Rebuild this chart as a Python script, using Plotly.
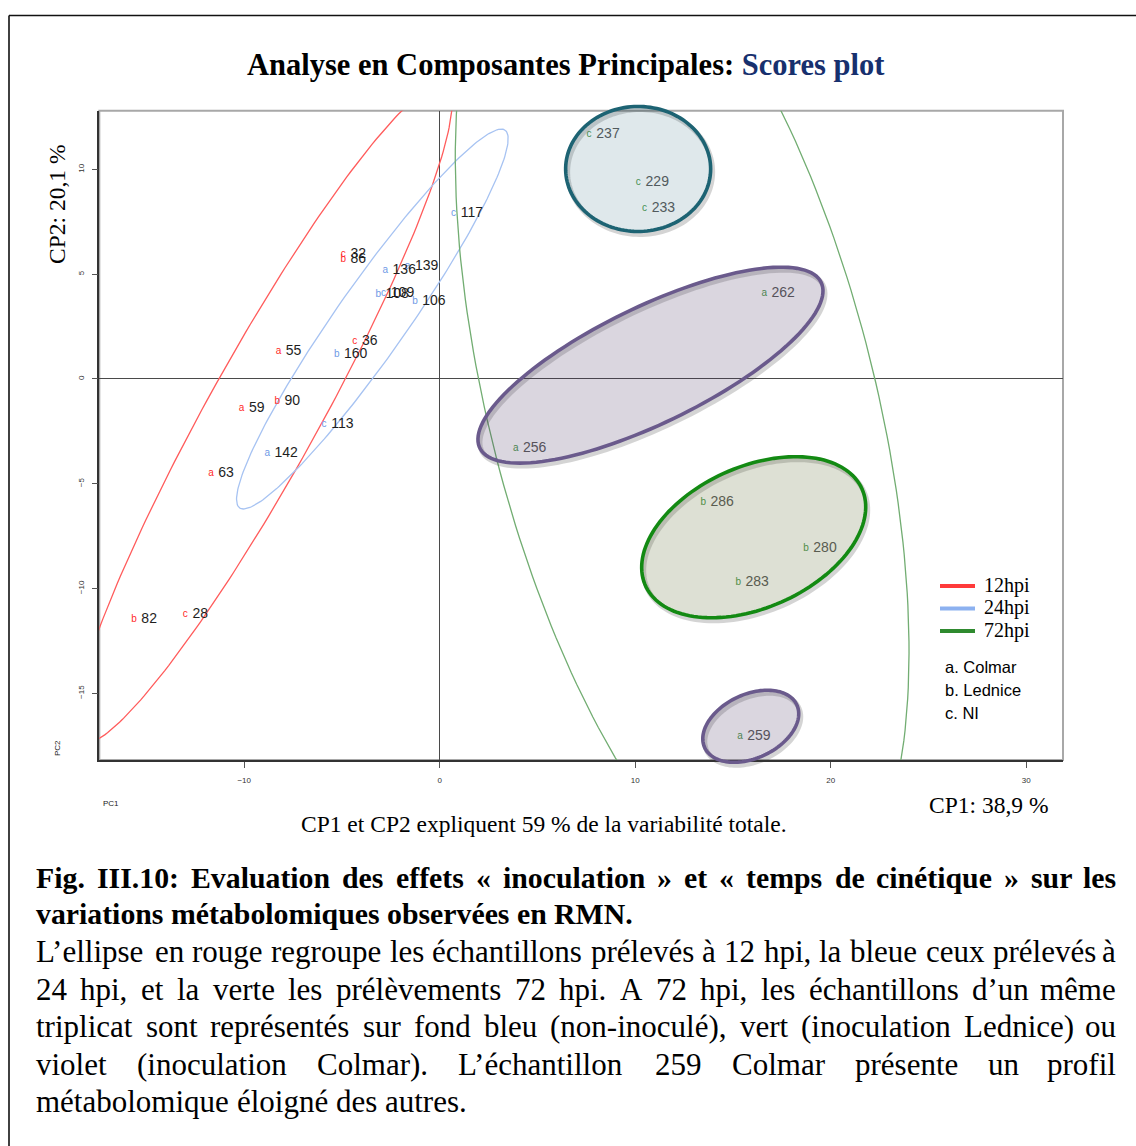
"""
PCA scores plot (CP1 x CP2) with 95 % ellipses per sampling time,
hand-drawn triplicate highlights and the French figure caption.
"""

import numpy as np
import plotly.graph_objects as go


# ============================================================================
# DATA
# ============================================================================

SAMPLE_ID = ['55', '59', '63', '82', '86', '90', '28', '32', '36',
             '136', '139', '142', '106', '108', '160', '109', '113', '117',
             '256', '259', '262', '280', '283', '286', '229', '233', '237']
SAMPLE_CODE = ['a', 'a', 'a', 'b', 'b', 'b', 'c', 'c', 'c',
               'a', 'a', 'a', 'b', 'b', 'b', 'c', 'c', 'c',
               'a', 'a', 'a', 'b', 'b', 'b', 'c', 'c', 'c']
SAMPLE_TIME = ['12hpi'] * 9 + ['24hpi'] * 9 + ['72hpi'] * 9
PC1 = [-8.24, -10.13, -11.70, -15.63, -4.93, -8.31, -13.02, -4.93, -4.35,
       -2.78, -1.64, -8.82, -1.26, -3.14, -5.27, -2.87, -5.92, 0.70,
       3.89, 15.36, 16.60, 18.74, 15.27, 13.48, 10.16, 10.47, 7.64]
PC2 = [1.30, -1.40, -4.53, -11.50, 5.68, -1.08, -11.26, 5.96, 1.80,
       5.17, 5.36, -3.55, 3.69, 4.04, 1.19, 4.10, -2.16, 7.90,
       -3.34, -17.07, 4.06, -8.08, -9.72, -5.90, 9.37, 8.14, 11.67]

TIMES = ['12hpi', '24hpi', '72hpi']
CODE_NAMES = ['a. Colmar', 'b. Lednice', 'c. NI']

# triplicates circled by hand at 72 hpi (NI, Colmar, Lednice, outlier)
HILITE_CX = [10.15, 10.78, 16.06, 15.91]
HILITE_CY = [10.02, 0.66, -7.55, -16.57]

X_TICKS = [-10, 0, 10, 20, 30]
Y_TICKS = [-15, -10, -5, 0, 5, 10]

TITLE_BLACK = 'Analyse en Composantes Principales: '
TITLE_BLUE = 'Scores plot'
CAPTION_BOLD = [
    'Fig. III.10: Evaluation des effets « inoculation » et « temps de cinétique » sur les',
    'variations métabolomiques observées en RMN.',
]
CAPTION_TEXT = [
    'L’ellipse en rouge regroupe les échantillons prélevés à 12 hpi, la bleue ceux prélevés à',
    '24 hpi, et la verte les prélèvements 72 hpi. A 72 hpi, les échantillons d’un même',
    'triplicat sont représentés sur fond bleu (non-inoculé), vert (inoculation Lednice) ou',
    'violet (inoculation Colmar). L’échantillon 259 Colmar présente un profil',
    'métabolomique éloigné des autres.',
]


# ============================================================================
# STYLE / LAYOUT CONSTANTS
# ============================================================================

FIG_W, FIG_H = 1136, 1146
PLOT_LEFT, PLOT_RIGHT, PLOT_TOP, PLOT_BOTTOM = 99.3, 1063, 110.7, 760
X_RANGE = [-17.41, 31.88]
Y_RANGE = [-18.18, 12.80]
DOM_X = [PLOT_LEFT / FIG_W, PLOT_RIGHT / FIG_W]
DOM_Y = [1 - PLOT_BOTTOM / FIG_H, 1 - PLOT_TOP / FIG_H]

SERIF = 'Liberation Serif, Times New Roman, serif'
SANS = 'Liberation Sans, Arial, sans-serif'

LETTER_COLOR = {'12hpi': '#ff2a2a', '24hpi': '#6f9ae6', '72hpi': '#4f9a4f'}
NUMBER_COLOR = {'12hpi': '#1e1e1e', '24hpi': '#1e1e1e', '72hpi': '#5a5a5a'}
ELLIPSE_COLOR = {'12hpi': '#ff5c5c', '24hpi': '#a7c3f2', '72hpi': '#72ad72'}
LEGEND_COLOR = {'12hpi': '#ff3a3a', '24hpi': '#8cb1f0', '72hpi': '#2f8a2f'}

# hand-drawn highlight ellipses: semi-axes in px, tilt in degrees, colours
HILITE_A = [72.5, 189.7, 118.6, 50.8]
HILITE_B = [62.5, 58.1, 70.5, 31.9]
HILITE_ANGLE = [0, 25.9, 24.1, 25]
HILITE_LINE = ['#1d6373', '#6a5a8c', '#138a13', '#6a5a8c']
HILITE_FILL = ['rgba(30,90,110,0.14)', 'rgba(70,50,95,0.2)',
               'rgba(85,100,40,0.2)', 'rgba(70,50,95,0.2)']

# Times metrics (per 1000 em) used to justify the caption lines
TIMES_REG = dict(zip(' ()-,.:%’«»', [250, 333, 333, 333, 250, 250, 278, 833, 333, 500, 500]))
TIMES_REG.update(dict(zip('abcdefghijklmnopqrstuvwxyz',
                          [444, 500, 444, 500, 444, 333, 500, 500, 278, 278, 500, 278, 778,
                           500, 500, 500, 500, 333, 389, 278, 500, 500, 722, 500, 500, 444])))
TIMES_REG.update(dict(zip('ACLRMNIEF', [722, 667, 611, 667, 889, 722, 333, 611, 556])))
TIMES_REG.update({c: 444 for c in 'éèêà'})
TIMES_REG.update({c: 500 for c in '0123456789'})
TIMES_BOLD = dict(zip(' ()-,.:%’«»', [250, 333, 333, 333, 250, 250, 333, 1000, 333, 500, 500]))
TIMES_BOLD.update(dict(zip('abcdefghijklmnopqrstuvwxyz',
                           [500, 556, 444, 556, 444, 333, 500, 556, 278, 333, 556, 278, 833,
                            556, 500, 556, 556, 444, 389, 333, 556, 500, 722, 500, 500, 444])))
TIMES_BOLD.update(dict(zip('ACLRMNIEF', [722, 722, 667, 722, 944, 722, 389, 667, 611])))
TIMES_BOLD.update({c: 444 for c in 'éèêà'})
TIMES_BOLD.update({c: 500 for c in '0123456789'})


# ============================================================================
# HELPERS
# ============================================================================

def px_x(px):
    return px / FIG_W


def px_y(py):
    return 1 - py / FIG_H


def data_to_paper(x, y):
    fx = (x - X_RANGE[0]) / (X_RANGE[1] - X_RANGE[0])
    fy = (y - Y_RANGE[0]) / (Y_RANGE[1] - Y_RANGE[0])
    return (DOM_X[0] + fx * (DOM_X[1] - DOM_X[0]),
            DOM_Y[0] + fy * (DOM_Y[1] - DOM_Y[0]))


def confidence_ellipse(xs, ys, n=240):
    """95 % normal-theory ellipse (chi-square, 2 df) of a group of scores"""
    pts = np.column_stack([xs, ys])
    centre = pts.mean(axis=0)
    vals, vecs = np.linalg.eigh(np.cov(pts, rowvar=False))
    k = np.sqrt(5.991)
    t = np.linspace(0, 2 * np.pi, n)
    circle = np.column_stack([np.cos(t), np.sin(t)]) * (k * np.sqrt(vals))
    ell = centre + circle @ vecs.T
    return ell[:, 0], ell[:, 1]


def hilite_path(cx, cy, a, b, angle, dx=0.0, dy=0.0):
    """Closed SVG path in paper coords for an ellipse sized in screen px"""
    x0, y0 = data_to_paper(cx, cy)
    th = np.radians(angle)
    t = np.linspace(0, 2 * np.pi, 140)
    ex = a * np.cos(t) * np.cos(th) - b * np.sin(t) * np.sin(th) + dx
    ey = a * np.cos(t) * np.sin(th) + b * np.sin(t) * np.cos(th) - dy
    xs = x0 + ex / FIG_W
    ys = y0 + ey / FIG_H
    return 'M ' + ' L '.join(f'{x:.5f},{y:.5f}' for x, y in zip(xs, ys)) + ' Z'


def text_width(s, table, size):
    return sum(table.get(ch, 500) for ch in s) * size / 1000.0


def caption_line(annotations, text, y, bold, size, justify, left=35, right=1117):
    """Add one caption line, word by word so it can be justified"""
    table = TIMES_BOLD if bold else TIMES_REG
    words = text.split(' ')
    widths = [text_width(w, table, size) for w in words]
    if justify and len(words) > 1:
        gap = (right - left - sum(widths)) / (len(words) - 1)
    else:
        gap = text_width(' ', table, size)
    x = left
    for i, (w, wd) in enumerate(zip(words, widths)):
        last = justify and i == len(words) - 1
        annotations.append(dict(
            x=px_x(right if last else x), y=px_y(y), xref='paper', yref='paper',
            xanchor='right' if last else 'left', yanchor='middle',
            text=f'<b>{w}</b>' if bold else w, showarrow=False, borderpad=0,
            font=dict(family=SERIF, size=size, color='#000000')
        ))
        x += wd + gap


# ============================================================================
# FIGURE
# ============================================================================

fig = go.Figure()

# 95 % ellipses, one per sampling time
for tp in TIMES:
    xs = [x for x, t in zip(PC1, SAMPLE_TIME) if t == tp]
    ys = [y for y, t in zip(PC2, SAMPLE_TIME) if t == tp]
    ex, ey = confidence_ellipse(xs, ys)
    fig.add_trace(go.Scatter(
        x=ex, y=ey, mode='lines', line=dict(color=ELLIPSE_COLOR[tp], width=1.3),
        hoverinfo='skip', showlegend=False
    ))

# sample labels: coloured code letter at the point, id number to its right
for tp in TIMES:
    idx = [i for i, t in enumerate(SAMPLE_TIME) if t == tp]
    xs = [PC1[i] for i in idx]
    ys = [PC2[i] for i in idx]
    fig.add_trace(go.Scatter(
        x=xs, y=ys, mode='text', text=[SAMPLE_CODE[i] for i in idx],
        textposition='middle center',
        textfont=dict(family=SANS, size=10, color=LETTER_COLOR[tp]),
        hoverinfo='skip', showlegend=False
    ))
    fig.add_trace(go.Scatter(
        x=xs, y=ys, mode='markers+text', text=[SAMPLE_ID[i] for i in idx],
        textposition='middle right',
        marker=dict(size=10, color='rgba(0,0,0,0)'),
        textfont=dict(family=SANS, size=14, color=NUMBER_COLOR[tp]),
        hovertemplate='%{text}<br>CP1 %{x:.2f}<br>CP2 %{y:.2f}<extra>' + tp + '</extra>',
        showlegend=False
    ))

shapes = []

# outer frame of the figure page
shapes.append(dict(type='line', xref='paper', yref='paper', x0=px_x(9), x1=px_x(1140),
                   y0=px_y(15.5), y1=px_y(15.5), line=dict(color='#111111', width=1.6)))
shapes.append(dict(type='line', xref='paper', yref='paper', x0=px_x(9), x1=px_x(9),
                   y0=px_y(15.5), y1=px_y(1150), line=dict(color='#111111', width=1.6)))

# grey plot box (top/right sides)
shapes.append(dict(type='rect', xref='x domain', yref='y domain', x0=0, x1=1, y0=0, y1=1,
                   line=dict(color='#a8a8a8', width=2), layer='below'))

# hand-drawn highlight ellipses with a soft shadow
for cx, cy, a, b, ang, lc, fc in zip(HILITE_CX, HILITE_CY, HILITE_A, HILITE_B,
                                     HILITE_ANGLE, HILITE_LINE, HILITE_FILL):
    shapes.append(dict(type='path', xref='paper', yref='paper',
                       path=hilite_path(cx, cy, a, b, ang, dx=2, dy=3),
                       line=dict(color='rgba(60,60,60,0.22)', width=5)))
    shapes.append(dict(type='path', xref='paper', yref='paper',
                       path=hilite_path(cx, cy, a, b, ang),
                       fillcolor=fc, line=dict(color=lc, width=3.6)))

# legend: sampling times
legend_rows = [586, 608.5, 631]
for tp, ly in zip(TIMES, legend_rows):
    shapes.append(dict(type='line', xref='paper', yref='paper', x0=px_x(940), x1=px_x(975),
                       y0=px_y(ly), y1=px_y(ly), line=dict(color=LEGEND_COLOR[tp], width=4)))

annotations = []
for tp, ly in zip(TIMES, legend_rows):
    annotations.append(dict(x=px_x(982), y=px_y(ly - 1), xref='paper', yref='paper',
                            xanchor='left', yanchor='middle', text=tp, showarrow=False,
                            font=dict(family=SERIF, size=20, color='#000000')))
for name, ly in zip(CODE_NAMES, [667, 690, 713]):
    annotations.append(dict(x=px_x(943), y=px_y(ly), xref='paper', yref='paper',
                            xanchor='left', yanchor='middle', text=name, showarrow=False,
                            font=dict(family=SANS, size=16.5, color='#000000')))

# titles and axis labels
annotations.append(dict(x=px_x(566), y=px_y(65), xref='paper', yref='paper',
                        xanchor='center', yanchor='middle', showarrow=False,
                        text=f'<b>{TITLE_BLACK}<span style="color:#17306e">{TITLE_BLUE}</span></b>',
                        font=dict(family=SERIF, size=30.5, color='#000000')))
annotations.append(dict(x=px_x(57), y=px_y(205), xref='paper', yref='paper',
                        xanchor='center', yanchor='middle', showarrow=False, textangle=-90,
                        text='CP2: 20,1 %', font=dict(family=SERIF, size=23.5, color='#000000')))
annotations.append(dict(x=px_x(988), y=px_y(805), xref='paper', yref='paper',
                        xanchor='center', yanchor='middle', showarrow=False,
                        text='CP1: 38,9 %', font=dict(family=SERIF, size=23.5, color='#000000')))
annotations.append(dict(x=px_x(544), y=px_y(824), xref='paper', yref='paper',
                        xanchor='center', yanchor='middle', showarrow=False,
                        text='CP1 et CP2 expliquent 59 % de la variabilité totale.',
                        font=dict(family=SERIF, size=23.5, color='#000000')))
annotations.append(dict(x=px_x(111), y=px_y(803), xref='paper', yref='paper',
                        xanchor='center', yanchor='middle', showarrow=False,
                        text='PC1', font=dict(family=SANS, size=8, color='#222222')))
annotations.append(dict(x=px_x(57), y=px_y(748), xref='paper', yref='paper',
                        xanchor='center', yanchor='middle', showarrow=False, textangle=-90,
                        text='PC2', font=dict(family=SANS, size=8, color='#222222')))

# caption
for i, (line, ly) in enumerate(zip(CAPTION_BOLD, [877, 913])):
    caption_line(annotations, line, ly, True, 29.8, justify=i < len(CAPTION_BOLD) - 1)
for i, (line, ly) in enumerate(zip(CAPTION_TEXT, [951, 989, 1026, 1064, 1101])):
    caption_line(annotations, line, ly, False, 31, justify=i < len(CAPTION_TEXT) - 1)

fig.update_layout(
    width=FIG_W,
    height=FIG_H,
    margin=dict(l=0, r=0, t=0, b=0),
    paper_bgcolor='white',
    plot_bgcolor='white',
    showlegend=False,
    shapes=shapes,
    annotations=annotations,
)

fig.update_xaxes(
    domain=DOM_X, range=X_RANGE, showgrid=False,
    zeroline=True, zerolinecolor='#4a4a4a', zerolinewidth=1,
    showline=True, linecolor='#333333', linewidth=1.5,
    tickmode='array', tickvals=X_TICKS, ticks='outside', ticklen=6, tickcolor='#555555',
    ticklabelstandoff=6,
    tickfont=dict(family=SANS, size=8, color='#333333')
)
fig.update_yaxes(
    domain=DOM_Y, range=Y_RANGE, showgrid=False,
    zeroline=True, zerolinecolor='#4a4a4a', zerolinewidth=1,
    showline=True, linecolor='#333333', linewidth=1.5,
    tickmode='array', tickvals=Y_TICKS, ticks='outside', ticklen=6, tickcolor='#555555',
    ticklabelstandoff=4,
    tickangle=-90, tickfont=dict(family=SANS, size=8, color='#333333')
)

fig.write_html('out.html', config={'displayModeBar': False},
               post_script="document.body.style.margin='0';")
